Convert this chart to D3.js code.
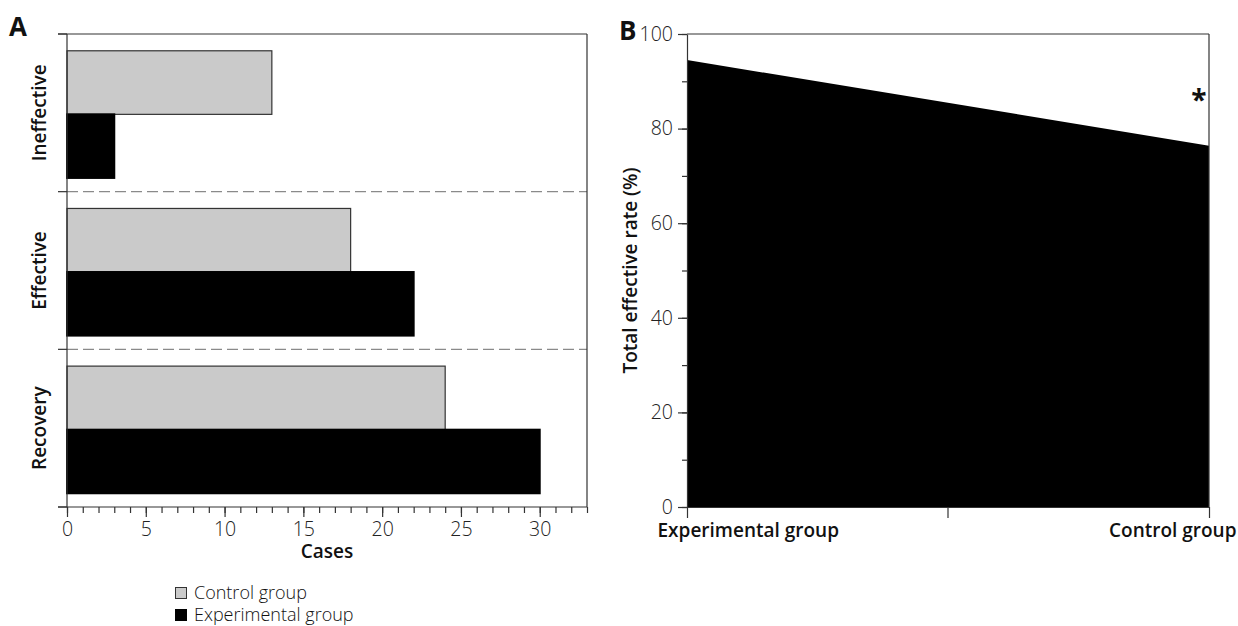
<!DOCTYPE html>
<html>
<head>
<meta charset="utf-8">
<script src="https://cdn.jsdelivr.net/npm/d3@7"></script>
<style>
  html, body { margin: 0; padding: 0; background: #fff; }
  svg { display: block; font-family: "Open Sans", "Noto Sans", sans-serif; }
  svg text { font-family: "Open Sans", "Noto Sans", sans-serif; }
  .axis path, .axis line { stroke: #333; stroke-width: 1.2; }
</style>
</head>
<body>
<svg id="chart" width="1238" height="626"></svg>
<script>
// Panel A: cases per outcome; panel B: total effective rate per group
const categories = ["Ineffective", "Effective", "Recovery"];
const groups = ["Control group", "Experimental group"];
const groupColors = ["#cacaca", "#000000"];
const controlCases = [13, 18, 24];
const experimentalCases = [3, 22, 30];
const caseTicks = [0, 5, 10, 15, 20, 25, 30];

const rateGroups = ["Experimental group", "Control group"];
const totalRate = [94.5, 76.4];
const rateTicks = [0, 20, 40, 60, 80, 100];

const svg = d3.select("#chart");
const AXIS = "#333";
const LABEL_SIZE = 19;

// light tick numbers, a little larger than d3's default
function styleTicks(g) {
  g.selectAll(".tick text")
    .style("font-size", "19.5px").style("font-weight", 300).style("fill", "#222");
}

// ---------- Panel A ----------
const A = { left: 67, right: 587, top: 34, bottom: 507 };
const gA = svg.append("g");

const x = d3.scaleLinear().domain([0, 33]).range([A.left, A.right]);
const y = d3.scaleBand().domain(categories).range([A.top, A.bottom]).padding(0);
const ySub = d3.scaleBand().domain(groups).range([0, y.bandwidth()])
  .paddingInner(0).paddingOuter(0.24).align(0.55);

// dashed separators between categories
gA.selectAll("line.sep")
  .data(categories.slice(1))
  .join("line")
  .attr("class", "sep")
  .attr("x1", A.left).attr("x2", A.right)
  .attr("y1", d => y(d)).attr("y2", d => y(d))
  .attr("stroke", "#8a8a8a").attr("stroke-width", 1.2)
  .attr("stroke-dasharray", "11,5");

const rows = categories.map((c, i) => ({
  cat: c,
  vals: [controlCases[i], experimentalCases[i]]
}));

gA.selectAll("g.row")
  .data(rows)
  .join("g")
  .attr("class", "row")
  .attr("transform", d => "translate(0," + y(d.cat) + ")")
  .selectAll("rect")
  .data(d => d.vals.map((v, j) => ({ g: groups[j], v: v, j: j })))
  .join("rect")
  .attr("x", x(0))
  .attr("y", d => ySub(d.g))
  .attr("width", d => x(d.v) - x(0))
  .attr("height", ySub.bandwidth())
  .attr("fill", d => groupColors[d.j])
  .attr("stroke", d => d.j === 0 ? "#333" : "#000")
  .attr("stroke-width", d => d.j === 0 ? 1.2 : 2);

// frame: top and right
gA.append("line").attr("x1", A.left - 9).attr("x2", A.right)
  .attr("y1", A.top).attr("y2", A.top).attr("stroke", AXIS).attr("stroke-width", 1.2);
gA.append("line").attr("x1", A.right).attr("x2", A.right)
  .attr("y1", A.top).attr("y2", A.bottom).attr("stroke", AXIS).attr("stroke-width", 1.2);

// left axis: ticks at band boundaries
const boundaries = categories.map(c => y(c)).concat([A.bottom]);
gA.append("line").attr("x1", A.left).attr("x2", A.left)
  .attr("y1", A.top).attr("y2", A.bottom).attr("stroke", AXIS).attr("stroke-width", 1.2);
gA.selectAll("line.ytick")
  .data(boundaries)
  .join("line")
  .attr("class", "ytick")
  .attr("x1", A.left - 9).attr("x2", A.left)
  .attr("y1", d => d).attr("y2", d => d)
  .attr("stroke", AXIS).attr("stroke-width", 1.2);

gA.selectAll("text.cat")
  .data(categories)
  .join("text")
  .attr("class", "cat")
  .attr("transform", d => "translate(46," + (y(d) + y.bandwidth() / 2) + ") rotate(-90)")
  .attr("text-anchor", "middle")
  .attr("font-size", LABEL_SIZE).attr("font-weight", 600).attr("fill", "#111")
  .text(d => d);

// bottom axis: minor ticks every case, labels every 5
gA.append("g").attr("class", "axis")
  .attr("transform", "translate(0," + A.bottom + ")")
  .call(d3.axisBottom(x).tickValues(d3.range(0, 34)).tickSize(6).tickFormat(""))
  .call(g => g.select(".domain").remove());
gA.append("g").attr("class", "axis")
  .attr("transform", "translate(0," + A.bottom + ")")
  .call(d3.axisBottom(x).tickValues(caseTicks).tickSize(10).tickPadding(5).tickSizeOuter(0))
  .call(g => g.select(".domain").attr("d", "M" + (A.left - 9) + ",0H" + A.right))
  .call(styleTicks);

gA.append("text")
  .attr("x", (A.left + A.right) / 2).attr("y", 558)
  .attr("text-anchor", "middle")
  .attr("font-size", LABEL_SIZE).attr("font-weight", 600).attr("fill", "#111")
  .text("Cases");

gA.append("text")
  .attr("x", 9).attr("y", 36)
  .attr("font-size", 26).attr("font-weight", 700).attr("fill", "#111")
  .text("A");

// legend
const lg = svg.append("g").attr("transform", "translate(175,586)");
const li = lg.selectAll("g").data(groups).join("g")
  .attr("transform", (d, i) => "translate(0," + i * 22 + ")");
li.append("rect")
  .attr("x", 0.5).attr("y", 1.5).attr("width", 11).attr("height", 11)
  .attr("fill", (d, i) => groupColors[i])
  .attr("stroke", (d, i) => i === 0 ? "#333" : "#000");
li.append("text")
  .attr("x", 19).attr("y", 13)
  .attr("font-size", 18).attr("font-weight", 300).attr("fill", "#111")
  .text(d => d);

// ---------- Panel B ----------
const B = { left: 687, right: 1209, top: 34, bottom: 507 };
const gB = svg.append("g");

const xB = d3.scalePoint().domain(rateGroups).range([B.left, B.right]);
const yB = d3.scaleLinear().domain([0, 100]).range([B.bottom, B.top]);

const rateData = rateGroups.map((g, i) => ({ g: g, v: totalRate[i] }));
gB.append("path")
  .datum(rateData)
  .attr("d", d3.area().x(d => xB(d.g)).y0(yB(0)).y1(d => yB(d.v)))
  .attr("fill", "#000");

// frame
gB.append("line").attr("x1", B.left).attr("x2", B.right)
  .attr("y1", B.top).attr("y2", B.top).attr("stroke", AXIS).attr("stroke-width", 1.2);
gB.append("line").attr("x1", B.right).attr("x2", B.right)
  .attr("y1", B.top).attr("y2", B.bottom).attr("stroke", AXIS).attr("stroke-width", 1.2);

gB.append("g").attr("class", "axis")
  .attr("transform", "translate(" + B.left + ",0)")
  .call(d3.axisLeft(yB).tickValues(d3.range(0, 101, 10)).tickSize(5).tickFormat(""))
  .call(g => g.select(".domain").remove());
gB.append("g").attr("class", "axis")
  .attr("transform", "translate(" + B.left + ",0)")
  .call(d3.axisLeft(yB).tickValues(rateTicks).tickSize(9).tickPadding(5).tickSizeOuter(0))
  .call(styleTicks);

const xAxisB = gB.append("g").attr("class", "axis")
  .attr("transform", "translate(0," + B.bottom + ")")
  .call(d3.axisBottom(xB).tickSize(11).tickPadding(6).tickSizeOuter(0));
xAxisB.selectAll(".tick text")
  .style("font-size", LABEL_SIZE + "px").style("font-weight", 600).style("fill", "#111")
  .attr("text-anchor", (d, i) => i === 0 ? "start" : "end")
  .attr("x", (d, i) => i === 0 ? -30 : 27);
// unlabeled middle tick
xAxisB.append("line")
  .attr("x1", (xB(rateGroups[0]) + xB(rateGroups[1])) / 2)
  .attr("x2", (xB(rateGroups[0]) + xB(rateGroups[1])) / 2)
  .attr("y1", 0).attr("y2", 11)
  .attr("stroke", AXIS).attr("stroke-width", 1.2);

gB.append("text")
  .attr("transform", "translate(637," + ((B.top + B.bottom) / 2) + ") rotate(-90)")
  .attr("text-anchor", "middle")
  .attr("font-size", LABEL_SIZE).attr("font-weight", 600).attr("fill", "#111")
  .text("Total effective rate (%)");

gB.append("text")
  .attr("x", 619).attr("y", 40)
  .attr("font-size", 26).attr("font-weight", 700).attr("fill", "#111")
  .text("B");

// significance marker above the control group value
gB.append("text")
  .attr("x", xB(rateGroups[1]) - 10).attr("y", yB(totalRate[1]) - 36)
  .attr("text-anchor", "middle")
  .attr("font-size", 28).attr("font-weight", 700).attr("fill", "#111")
  .text("*");
</script>
</body>
</html>
